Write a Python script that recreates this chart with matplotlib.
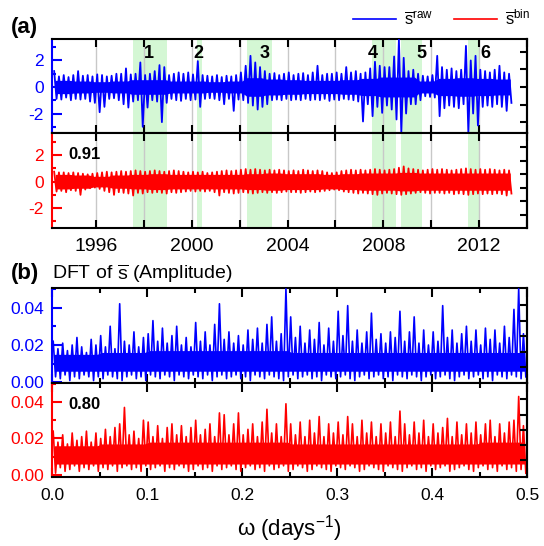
import numpy as np
import matplotlib
matplotlib.use('Agg')
import matplotlib.pyplot as plt
from matplotlib.lines import Line2D
from matplotlib.ticker import MultipleLocator, FormatStrFormatter, FuncFormatter

plt.rcParams['font.family'] = ['Liberation Sans', 'DejaVu Sans']
plt.rcParams['mathtext.fontset'] = 'custom'
plt.rcParams['mathtext.rm'] = 'Liberation Sans'
plt.rcParams['mathtext.it'] = 'Liberation Sans:italic'
plt.rcParams['mathtext.bf'] = 'Liberation Sans:bold'
plt.rcParams['axes.unicode_minus'] = False

BLUE = '#0000ff'
RED = '#ff0000'
GREEN = '#d4f7d4'

# --- (a) time series, max / min of each 0.2 yr bin ---
years = np.linspace(1994.3, 2013.3, 96)
raw_hi = [1.2, 0.8, 0.9, 0.75, 0.9, 1.2, 0.85, 0.9, 0.8, 0.95,
          0.9, 0.8, 0.85, 1.0, 1.0, 1.4, 0.95, 1.0, 1.85, 0.9,
          1.0, 1.2, 1.65, 1.5, 0.9, 1.0, 1.1, 1.0, 1.1, 0.95,
          1.95, 0.9, 0.85, 0.8, 0.9, 0.75, 0.85, 0.8, 0.9, 1.1,
          1.6, 2.35, 1.85, 1.5, 1.2, 1.0, 1.05, 0.9, 1.0, 1.1,
          0.9, 1.0, 1.05, 0.9, 1.1, 1.6, 0.9, 1.0, 1.0, 1.1,
          1.0, 1.5, 1.1, 1.2, 1.0, 1.1, 1.4, 1.9, 1.6, 1.5,
          1.5, 2.3, 3.6, 2.2, 1.2, 1.3, 1.0, 0.85, 0.8, 0.9,
          2.35, 1.5, 1.3, 1.4, 1.2, 1.3, 3.1, 2.0, 2.35, 1.3,
          1.2, 1.1, 1.3, 1.6, 1.1, 1.0]
raw_lo = [-0.9, -0.95, -0.8, -1.0, -0.9, -0.95, -0.9, -1.1, -1.2, -1.9,
          -1.5, -0.9, -0.85, -1.0, -1.3, -1.55, -1.1, -1.0, -3.0, -1.55,
          -1.0, -1.1, -2.65, -1.2, -0.9, -1.0, -1.05, -0.9, -1.0, -0.95,
          -1.5, -0.9, -0.85, -0.9, -1.0, -1.3, -0.9, -1.8, -0.95, -1.0,
          -1.2, -1.4, -1.7, -1.5, -1.3, -1.0, -0.95, -1.0, -0.9, -1.0,
          -0.95, -1.0, -0.9, -1.0, -0.95, -1.0, -0.9, -1.05, -0.95, -1.0,
          -0.9, -0.95, -1.0, -1.1, -2.6, -1.3, -2.2, -1.5, -1.95, -1.4,
          -1.7, -2.45, -3.45, -2.0, -1.3, -1.3, -1.0, -0.7, -0.75, -0.8,
          -2.2, -1.6, -1.4, -1.5, -1.6, -1.3, -3.45, -2.0, -2.9, -1.5,
          -1.4, -1.5, -1.3, -1.5, -1.8, -1.2]
# half-width of the solid core of the band, per 0.8 yr
raw_core = [0.5, 0.45, 0.4, 0.45, 0.55, 0.55, 0.45, 0.45, 0.4, 0.45, 0.7, 0.6,
            0.55, 0.5, 0.5, 0.55, 0.65, 0.75, 0.75, 0.45, 0.65, 0.7, 0.65, 0.6]

bin_hi = [0.75, 0.7, 0.7, 0.65, 0.7, 0.65, 0.6, 0.55, 0.6, 0.65,
          0.7, 0.75, 0.7, 0.75, 0.8, 0.75, 0.8, 0.85, 0.8, 0.75,
          0.8, 0.85, 0.8, 0.75, 0.8, 0.85, 0.8, 0.75, 0.7, 0.75,
          0.7, 0.75, 0.65, 0.7, 0.75, 0.8, 0.85, 0.8, 0.85, 0.9,
          0.95, 0.9, 0.95, 0.9, 0.85, 0.9, 0.85, 0.9, 0.85, 0.8,
          0.85, 0.8, 0.9, 0.85, 0.8, 0.85, 0.8, 0.7, 0.65, 0.7,
          0.8, 0.85, 0.9, 0.85, 0.9, 0.85, 0.9, 0.95, 0.9, 0.85,
          0.9, 0.95, 1.05, 1.15, 1.0, 0.95, 0.9, 0.85, 0.9, 0.95,
          0.9, 0.95, 0.9, 0.85, 0.9, 0.95, 1.0, 0.95, 0.9, 0.95,
          0.9, 0.95, 0.9, 0.85, 0.9, 0.85]
bin_lo = [-0.75, -0.7, -0.8, -0.65, -0.7, -1.0, -0.6, -0.5, -0.45, -0.55,
          -0.7, -0.8, -1.0, -0.8, -0.85, -0.9, -1.05, -0.85, -0.9, -0.8,
          -0.85, -0.8, -0.85, -0.9, -0.8, -0.85, -0.8, -0.75, -0.7, -0.75,
          -0.7, -0.75, -0.7, -0.8, -1.05, -0.8, -0.85, -0.9, -0.85, -0.8,
          -0.85, -0.9, -0.85, -0.8, -0.85, -0.8, -0.85, -0.8, -0.75, -0.8,
          -0.8, -0.85, -0.8, -0.75, -0.8, -0.75, -0.7, -0.65, -0.6, -0.65,
          -0.75, -0.8, -0.85, -0.9, -0.85, -0.9, -0.95, -1.0, -0.9, -0.85,
          -0.9, -0.95, -1.0, -0.95, -0.9, -0.85, -0.8, -0.85, -0.9, -0.85,
          -0.85, -0.9, -0.85, -0.95, -0.9, -0.95, -1.0, -0.95, -0.9, -0.95,
          -0.9, -0.95, -0.9, -0.95, -1.05, -0.9]
bin_core = [0.55, 0.5, 0.4, 0.5, 0.55, 0.6, 0.55, 0.55, 0.55, 0.55, 0.6, 0.65,
            0.6, 0.6, 0.55, 0.6, 0.65, 0.65, 0.7, 0.65, 0.65, 0.65, 0.65, 0.65]

# shaded periods 1-6
period_start = [1997.55, 2000.22, 2002.31, 2007.53, 2008.74, 2011.54]
period_end = [1998.97, 2000.43, 2003.35, 2008.53, 2009.62, 2012.04]
period_label_x = [1998.19, 2000.28, 2003.05, 2007.57, 2009.59, 2012.28]
period_names = ['1', '2', '3', '4', '5', '6']

# --- (b) DFT amplitude, max / min of each 0.005 bin (units of 1e-3) ---
omega = np.linspace(0.0025, 0.4975, 100)
dft_raw_hi = np.array([22, 18, 21, 17, 20, 24, 19, 16, 23, 20,
                       25, 19, 30, 18, 42, 22, 20, 27, 19, 24,
                       26, 33, 22, 29, 21, 25, 30, 20, 24, 19,
                       32, 22, 27, 20, 31, 42, 23, 27, 21, 25,
                       20, 28, 23, 29, 21, 31, 35, 22, 26, 50,
                       35, 24, 30, 21, 28, 23, 32, 20, 29, 22,
                       38, 25, 41, 22, 28, 21, 27, 37, 23, 26,
                       21, 27, 24, 38, 22, 27, 35, 21, 28, 20,
                       27, 22, 41, 24, 28, 21, 26, 30, 22, 28,
                       20, 29, 23, 28, 21, 30, 24, 39, 50, 26]) / 1000
dft_raw_lo = np.array([3, 2, 4, 1, 3, 2, 4, 3, 1, 3,
                       2, 4, 3, 2, 1, 3, 4, 2, 3, 1,
                       4, 3, 2, 4, 3, 1, 4, 3, 2, 4,
                       3, 2, 4, 1, 3, 4, 2, 3, 4, 2,
                       3, 1, 4, 3, 2, 4, 3, 2, 1, 3,
                       4, 2, 3, 4, 2, 3, 1, 4, 3, 2,
                       3, 4, 2, 1, 3, 4, 2, 3, 4, 2,
                       3, 1, 4, 3, 2, 4, 3, 1, 3, 4,
                       2, 3, 4, 2, 1, 3, 4, 2, 3, 4,
                       2, 3, 1, 4, 3, 2, 4, 3, 2, 3]) / 1000
# solid core of the band, per 0.05 in omega (units of 1e-3)
dft_raw_core_lo = np.array([6, 6, 6, 6, 6, 6, 6, 6, 6, 6]) / 1000
dft_raw_core_hi = np.array([15, 16, 17, 17, 17, 16, 16, 16, 16, 16]) / 1000

dft_bin_hi = np.array([24, 18, 22, 17, 23, 19, 21, 24, 18, 23,
                       20, 25, 21, 26, 28, 37, 22, 24, 20, 30,
                       29, 21, 27, 20, 26, 28, 22, 27, 21, 26,
                       30, 22, 25, 28, 21, 34, 33, 22, 28, 34,
                       22, 25, 28, 21, 29, 36, 23, 28, 21, 39,
                       28, 22, 29, 21, 30, 23, 32, 21, 28, 23,
                       29, 22, 32, 28, 21, 30, 23, 29, 21, 28,
                       23, 29, 21, 35, 28, 22, 29, 23, 30, 21,
                       28, 23, 26, 31, 21, 29, 22, 28, 23, 29,
                       22, 28, 30, 21, 28, 23, 29, 30, 43, 27]) / 1000
dft_bin_lo = np.array([1, 4, 2, 3, 5, 2, 4, 3, 5, 2,
                       4, 3, 5, 2, 4, 5, 3, 4, 2, 5,
                       3, 4, 5, 2, 4, 3, 5, 4, 2, 3,
                       5, 3, 4, 2, 5, 3, 4, 5, 3, 2,
                       4, 5, 3, 4, 2, 5, 3, 4, 5, 2,
                       3, 5, 4, 2, 3, 5, 4, 3, 2, 5,
                       4, 3, 5, 4, 2, 3, 5, 4, 3, 2,
                       5, 4, 3, 2, 4, 5, 3, 4, 2, 5,
                       3, 4, 5, 2, 3, 4, 5, 3, 2, 4,
                       5, 3, 4, 2, 5, 3, 4, 2, 3, 1]) / 1000
dft_bin_core_lo = np.array([6, 6, 6, 6, 6, 6, 6, 6, 6, 6]) / 1000
dft_bin_core_hi = np.array([16, 17, 18, 18, 18, 17, 17, 17, 17, 18]) / 1000

corr_a = '0.91'
corr_b = '0.80'


def envelope_line(ax, x, hi, lo, core_lo, core_hi, step, color, lw):
    # solid core of the band plus a zig-zag through the max and min of each bin
    ax.fill_between(x, core_lo, core_hi, color=color, lw=0, zorder=3)
    xs = np.column_stack([x - step / 4, x + step / 4]).ravel()
    ys = np.column_stack([hi, lo]).ravel()
    ax.plot(xs, ys, color=color, lw=lw, zorder=3)


def style_axes(ax, color, ylim, ymajor, yminor, right_ticks, xlen):
    ax.set_ylim(*ylim)
    twin = ax.twinx()
    twin.set_ylim(*ylim)
    twin.set_yticks(right_ticks)
    twin.tick_params(axis='y', direction='in', length=5, width=1.5, labelright=False)
    for name in ['left', 'top', 'bottom']:
        twin.spines[name].set_visible(False)
    twin.spines['right'].set_linewidth(1.5)
    for s in ax.spines.values():
        s.set_linewidth(1.5)
    ax.spines['left'].set_color(color)
    ax.yaxis.set_major_locator(MultipleLocator(ymajor))
    ax.yaxis.set_minor_locator(MultipleLocator(yminor))
    ax.tick_params(axis='y', which='both', direction='in', left=True, right=False,
                   color=color, labelcolor=color, width=1.5, labelsize=12.5, pad=6)
    ax.tick_params(axis='y', which='major', length=7)
    ax.tick_params(axis='y', which='minor', length=3)
    ax.tick_params(axis='x', which='both', direction='in', top=True, bottom=True,
                   width=1.5, labelsize=14)
    ax.tick_params(axis='x', which='major', length=xlen[0])
    ax.tick_params(axis='x', which='minor', length=xlen[1])


fig = plt.figure(figsize=(5.44, 5.46), dpi=100)
L, W = 52 / 544, 475 / 544
ax_a1 = fig.add_axes([L, 0.7564, W, 0.1722])
ax_a2 = fig.add_axes([L, 0.5824, W, 0.1740])
ax_b1 = fig.add_axes([L, 0.2985, W, 0.1740])
ax_b2 = fig.add_axes([L, 0.1264, W, 0.1722])

# --- panel (a) ---
for ax, hi, lo, core, color, ylim, rt in [
        (ax_a1, raw_hi, raw_lo, raw_core, BLUE, (-3.47, 3.62), [-2.65, -1.33, 0, 1.33, 2.65]),
        (ax_a2, bin_hi, bin_lo, bin_core, RED, (-3.5, 3.67), [-2.5, -1.47, -0.49, 0.57, 1.55, 2.6])]:
    for s, e in zip(period_start, period_end):
        ax.axvspan(s, e, color=GREEN, lw=0, zorder=0.2)
    half = np.repeat(core, 4)
    envelope_line(ax, years, np.array(hi), np.array(lo), -half, half, 0.2, color, 1.3)
    ax.set_xlim(1994.16, 2014.0)
    ax.xaxis.set_major_locator(MultipleLocator(4))
    ax.xaxis.set_minor_locator(MultipleLocator(2))
    ax.set_axisbelow(True)
    ax.grid(which='both', axis='x', color='#c8c8c8', lw=1)
    style_axes(ax, color, ylim, 2, 1, rt, xlen=(6, 6))

ax_a1.tick_params(axis='x', labelbottom=False)
ax_a1.yaxis.set_major_formatter(FuncFormatter(lambda v, p: '%d' % round(v)))
ax_a2.yaxis.set_major_formatter(FuncFormatter(lambda v, p: '%d' % round(v)))
ax_a2.tick_params(axis='x', pad=7)

for x, name in zip(period_label_x, period_names):
    ax_a1.text(x, 2.49, name, ha='center', va='center', fontsize=13,
               fontweight='bold', zorder=5)
ax_a2.text(0.034, 0.77, corr_a, transform=ax_a2.transAxes, ha='left', va='center',
           fontsize=12, fontweight='bold')

# --- panel (b) ---
for ax, hi, lo, clo, chi, color, ylim in [
        (ax_b1, dft_raw_hi, dft_raw_lo, dft_raw_core_lo, dft_raw_core_hi, BLUE, (-0.0003, 0.0504)),
        (ax_b2, dft_bin_hi, dft_bin_lo, dft_bin_core_lo, dft_bin_core_hi, RED, (-0.0011, 0.0504))]:
    envelope_line(ax, omega, hi, lo, np.repeat(clo, 10), np.repeat(chi, 10), 0.005, color, 1.2)
    ax.set_xlim(0, 0.5)
    ax.xaxis.set_major_locator(MultipleLocator(0.1))
    ax.xaxis.set_minor_locator(MultipleLocator(0.05))
    style_axes(ax, color, ylim, 0.02, 0.01,
               [0.008, 0.0164, 0.0246, 0.033, 0.0415], xlen=(6.5, 3.5))
    ax.yaxis.set_major_formatter(FormatStrFormatter('%.2f'))

ax_b1.tick_params(axis='x', labelbottom=False)
ax_b2.xaxis.set_major_formatter(FormatStrFormatter('%.1f'))
ax_b2.tick_params(axis='x', labelsize=12.5, pad=8)
ax_b2.text(0.034, 0.766, corr_b, transform=ax_b2.transAxes, ha='left', va='center',
           fontsize=12, fontweight='bold')

# --- labels and legend ---
fig.text(0.02, 1 - 27 / 546, '(a)', fontsize=16, fontweight='bold', ha='left', va='center')
fig.text(0.02, 1 - 273.5 / 546, '(b)', fontsize=16, fontweight='bold', ha='left', va='center')
fig.text(L, 1 - 273.5 / 546, r'DFT of $\overline{\mathrm{s}}$ (Amplitude)', fontsize=14,
         ha='left', va='center')
fig.text(L + W / 2, 1 - 529 / 546, 'ω (days$^{\\mathrm{-1}}$)', fontsize=16,
         ha='center', va='center')

handles = [Line2D([], [], color=BLUE, lw=1.2), Line2D([], [], color=RED, lw=1.2)]
labels = [r'$\overline{\mathrm{s}}^{\mathrm{raw}}$', r'$\overline{\mathrm{s}}^{\mathrm{bin}}$']
fig.legend(handles, labels, loc='center right', bbox_to_anchor=(0.975, 1 - 18 / 546),
           ncol=2, frameon=False, fontsize=12, handlelength=2.6, handletextpad=0.5,
           columnspacing=1.2, borderaxespad=0, borderpad=0)

fig.savefig('out.png', dpi=100)
